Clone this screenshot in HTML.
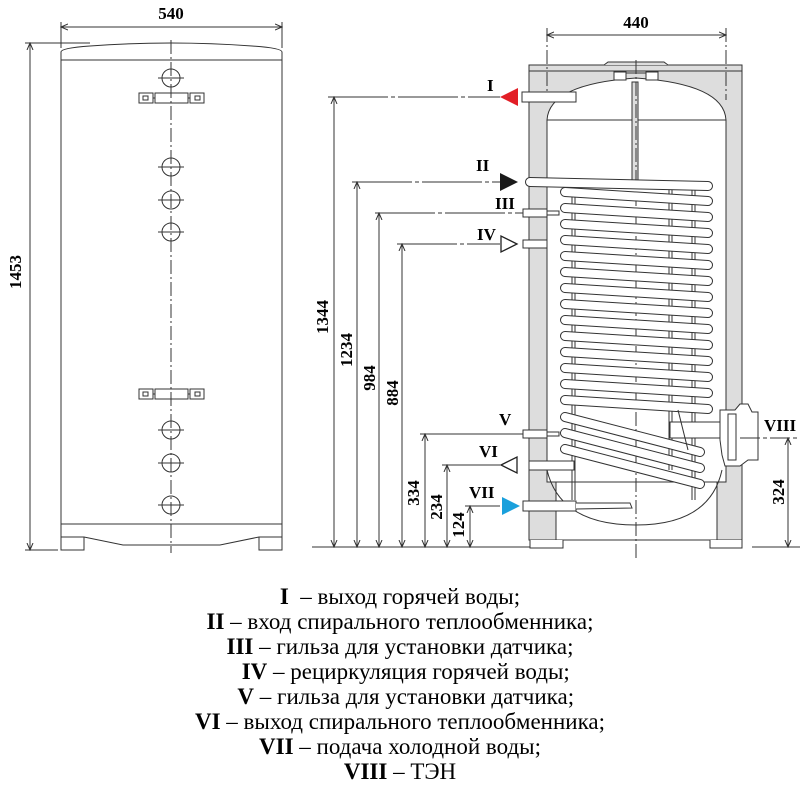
<!DOCTYPE html>
<html><head><meta charset="utf-8"><style>
html,body{margin:0;padding:0;background:#fff;width:800px;height:800px;overflow:hidden}
svg{display:block}
.t{font-family:"Liberation Serif",serif;font-weight:bold;fill:#000}
.leg{position:absolute;left:0;width:800px;text-align:center;font-family:"Liberation Serif",serif;font-size:23px;line-height:25px;top:584px;color:#000}
.leg b{font-weight:bold}
</style></head><body>
<svg width="800" height="800" viewBox="0 0 800 800" xmlns="http://www.w3.org/2000/svg">
<defs>
<marker id="a" markerWidth="8" markerHeight="8" refX="7" refY="4" orient="auto-start-reverse" markerUnits="userSpaceOnUse"><path d="M0,1 L7,4 L0,7" fill="none" stroke="#333" stroke-width="1"/></marker>
</defs>
<g stroke="#333" stroke-width="1" fill="none">
<!-- LEFT VIEW -->
<line x1="61" y1="27" x2="282" y2="27" marker-start="url(#a)" marker-end="url(#a)"/>
<line x1="61" y1="22" x2="61" y2="48"/><line x1="282" y1="22" x2="282" y2="48"/>
<line x1="25" y1="43" x2="90" y2="43"/><line x1="25" y1="550" x2="58" y2="550"/>
<line x1="30" y1="43" x2="30" y2="550" marker-start="url(#a)" marker-end="url(#a)"/>
<path d="M61,52 Q61,48 90,46 Q171,40 252,46 Q282,48 282,52 L282,537 M61,52 L61,537"/>
<line x1="61" y1="60" x2="282" y2="60"/>
<line x1="61" y1="524" x2="282" y2="524"/>
<path d="M61,537 L84,537 L123,545 L220,545 L259,537 L282,537"/>
<path d="M61,537 L61,550 L84,550 L84,537 M259,537 L259,550 L282,550 L282,537"/>
<line x1="171" y1="40" x2="171" y2="553" stroke-dasharray="14,3,2,3"/>
<g>
<circle cx="171" cy="78" r="9"/><line x1="158" y1="78" x2="184" y2="78"/>
<circle cx="171" cy="167" r="9"/><line x1="158" y1="167" x2="184" y2="167"/>
<circle cx="171" cy="200" r="9"/><line x1="158" y1="200" x2="184" y2="200"/>
<circle cx="171" cy="232" r="9"/><line x1="158" y1="232" x2="184" y2="232"/>
<circle cx="171" cy="430" r="9"/><line x1="158" y1="430" x2="184" y2="430"/>
<circle cx="171" cy="463" r="9"/><line x1="158" y1="463" x2="184" y2="463"/>
<circle cx="171" cy="505" r="9"/><line x1="158" y1="505" x2="184" y2="505"/>
</g>
<g id="br"><rect x="139" y="93" width="14" height="10"/><rect x="143" y="96" width="5" height="4"/><rect x="190" y="93" width="14" height="10"/><rect x="195" y="96" width="5" height="4"/><rect x="155" y="93" width="33" height="10"/><line x1="153" y1="98" x2="155" y2="98"/><line x1="188" y1="98" x2="190" y2="98"/></g>
<use href="#br" y="296"/>
</g>
<text class="t" x="171" y="19" font-size="17" text-anchor="middle">540</text>
<text class="t" font-size="17" text-anchor="middle" transform="translate(21,272) rotate(-90)">1453</text>

<!-- RIGHT VIEW -->
<g stroke="#333" stroke-width="1">
<rect x="529" y="65" width="213" height="475" fill="#ddd"/>
<path d="M604,65 L608,62 L664,62 L668,65" fill="#ddd"/>
<line x1="529" y1="71" x2="742" y2="71"/>
<path d="M547,120 Q549,84 636,78 Q724,84 726,120 L726,482 L547,482 Z" fill="#fff"/>
<path d="M547,482 L726,482 L717,482 L717,540 L556,540 L556,482 Z" fill="#fff"/>
<path d="M547,470 Q560,525 636,525 Q710,525 722,470" fill="none"/>
<line x1="547" y1="120" x2="726" y2="120"/>
<line x1="547" y1="482" x2="717" y2="482"/>
<path d="M530,540 L530,548 L563,548 L563,540 M710,540 L710,548 L742,548 L742,540" fill="#fff"/>
<line x1="600" y1="540" x2="680" y2="540"/>
<rect x="614" y="72" width="12" height="8" fill="#fff"/><rect x="646" y="72" width="12" height="8" fill="#fff"/>
<line x1="626" y1="73" x2="646" y2="73"/>
<rect x="632" y="82" width="6" height="100" fill="#ddd"/>
</g>
<g stroke="#333" stroke-width="1" fill="none">
<line x1="636" y1="60" x2="636" y2="560" stroke-dasharray="14,3,2,3"/>
<line x1="547" y1="28" x2="547" y2="100" stroke-dasharray="14,3,2,3"/>
<line x1="726" y1="28" x2="726" y2="100" stroke-dasharray="14,3,2,3"/>
<line x1="547" y1="35" x2="726" y2="35" marker-start="url(#a)" marker-end="url(#a)"/>
<line x1="572" y1="188" x2="572" y2="500"/><line x1="575" y1="188" x2="575" y2="500"/>
<line x1="669" y1="188" x2="669" y2="470"/><line x1="672" y1="188" x2="672" y2="470"/>
<line x1="692" y1="188" x2="692" y2="500"/><line x1="695" y1="188" x2="695" y2="500"/>
</g>
<g stroke-linecap="round" fill="none">
<g id="coilA">
<line x1="565" y1="192" x2="708" y2="201" stroke="#333" stroke-width="10"/>
<line x1="565" y1="192" x2="708" y2="201" stroke="#fff" stroke-width="8"/>
</g>
<use href="#coilA" y="16"/><use href="#coilA" y="32"/><use href="#coilA" y="48"/><use href="#coilA" y="64"/>
<use href="#coilA" y="80"/><use href="#coilA" y="96"/><use href="#coilA" y="112"/><use href="#coilA" y="128"/>
<use href="#coilA" y="144"/><use href="#coilA" y="160"/><use href="#coilA" y="176"/><use href="#coilA" y="192"/>
<use href="#coilA" y="208"/>
<g id="coilB">
<line x1="565" y1="417" x2="700" y2="452" stroke="#333" stroke-width="10"/>
<line x1="565" y1="417" x2="700" y2="452" stroke="#fff" stroke-width="8"/>
</g>
<use href="#coilB" y="16"/><use href="#coilB" y="32"/>
<line x1="530" y1="182" x2="708" y2="186" stroke="#333" stroke-width="10"/>
<line x1="530" y1="182" x2="708" y2="186" stroke="#fff" stroke-width="8"/>
</g>
<g stroke="#333" stroke-width="1" fill="#fff">
<rect x="522" y="92" width="54" height="10"/>
<rect x="523" y="209" width="24" height="8"/><rect x="547" y="211" width="12" height="4"/>
<rect x="523" y="240" width="24" height="8"/>
<rect x="523" y="430" width="24" height="8"/><rect x="547" y="432" width="12" height="4"/>
<rect x="529" y="461" width="45" height="9"/>
<rect x="523" y="501" width="53" height="10"/><path d="M576,503 L630,503 L632,508 L576,509"/>
<rect x="670" y="422" width="62" height="16"/>
<path d="M720,410 L735,410 L740,404 L748,404 L752,412 L758,412 L758,460 L748,460 L740,466 L725,466 L722,455 L720,440 Z"/>
<rect x="728" y="414" width="8" height="46"/>
<path d="M678,410 L688,450" fill="none"/>
</g>
<g stroke="#333" stroke-width="1" fill="none">
<line x1="312" y1="547" x2="530" y2="547"/>
<line x1="328" y1="97" x2="500" y2="97" stroke-dasharray="60,3,4,3"/>
<line x1="352" y1="182" x2="500" y2="182" stroke-dasharray="60,3,4,3"/>
<line x1="375" y1="213" x2="523" y2="213" stroke-dasharray="60,3,4,3"/>
<line x1="397" y1="244" x2="500" y2="244" stroke-dasharray="60,3,4,3"/>
<line x1="420" y1="434" x2="523" y2="434"/>
<line x1="442" y1="465" x2="500" y2="465"/>
<line x1="465" y1="506" x2="500" y2="506"/>
<line x1="334" y1="97" x2="334" y2="547" marker-start="url(#a)" marker-end="url(#a)"/>
<line x1="357" y1="182" x2="357" y2="547" marker-start="url(#a)" marker-end="url(#a)"/>
<line x1="379" y1="213" x2="379" y2="547" marker-start="url(#a)" marker-end="url(#a)"/>
<line x1="402" y1="244" x2="402" y2="547" marker-start="url(#a)" marker-end="url(#a)"/>
<line x1="425" y1="434" x2="425" y2="547" marker-start="url(#a)" marker-end="url(#a)"/>
<line x1="447" y1="465" x2="447" y2="547" marker-start="url(#a)" marker-end="url(#a)"/>
<line x1="470" y1="506" x2="470" y2="547" marker-start="url(#a)" marker-end="url(#a)"/>
<line x1="740" y1="438" x2="800" y2="438" stroke-dasharray="20,3,4,3"/>
<line x1="752" y1="547" x2="800" y2="547"/>
<line x1="788" y1="438" x2="788" y2="547" marker-start="url(#a)" marker-end="url(#a)"/>
</g>
<polygon points="500,97 518,88 518,106" fill="#e21e26"/>
<polygon points="518,182 500,173 500,191" fill="#1a1a1a"/>
<polygon points="517,244 501,236 501,252" fill="#fff" stroke="#222" stroke-width="1.3"/>
<polygon points="501,465 517,457 517,473" fill="#fff" stroke="#222" stroke-width="1.3"/>
<polygon points="520,506 502,497 502,515" fill="#1aa0dc"/>
<g class="t" font-size="17">
<text x="636" y="28" text-anchor="middle">440</text>
<text x="487" y="91">I</text>
<text x="476" y="171">II</text>
<text x="495" y="209">III</text>
<text x="477" y="240">IV</text>
<text x="499" y="425">V</text>
<text x="479" y="457">VI</text>
<text x="469" y="498">VII</text>
<text x="764" y="431">VIII</text>
<text text-anchor="middle" transform="translate(328,317) rotate(-90)">1344</text>
<text text-anchor="middle" transform="translate(352,350) rotate(-90)">1234</text>
<text text-anchor="middle" transform="translate(375,378) rotate(-90)">984</text>
<text text-anchor="middle" transform="translate(398,393) rotate(-90)">884</text>
<text text-anchor="middle" transform="translate(419,493) rotate(-90)">334</text>
<text text-anchor="middle" transform="translate(442,507) rotate(-90)">234</text>
<text text-anchor="middle" transform="translate(464,525) rotate(-90)">124</text>
<text text-anchor="middle" transform="translate(784,492) rotate(-90)">324</text>
</g>
</svg>
<div class="leg">
<b>I</b>&nbsp; – выход горячей воды;<br>
<b>II</b> – вход спирального теплообменника;<br>
<b>III</b> – гильза для установки датчика;<br>
&nbsp;&nbsp;<b>IV</b> – рециркуляция горячей воды;<br>
&nbsp;&nbsp;<b>V</b> – гильза для установки датчика;<br>
<b>VI</b> – выход спирального теплообменника;<br>
<b>VII</b> – подача холодной воды;<br>
<b>VIII</b> – ТЭН
</div>
</body></html>
